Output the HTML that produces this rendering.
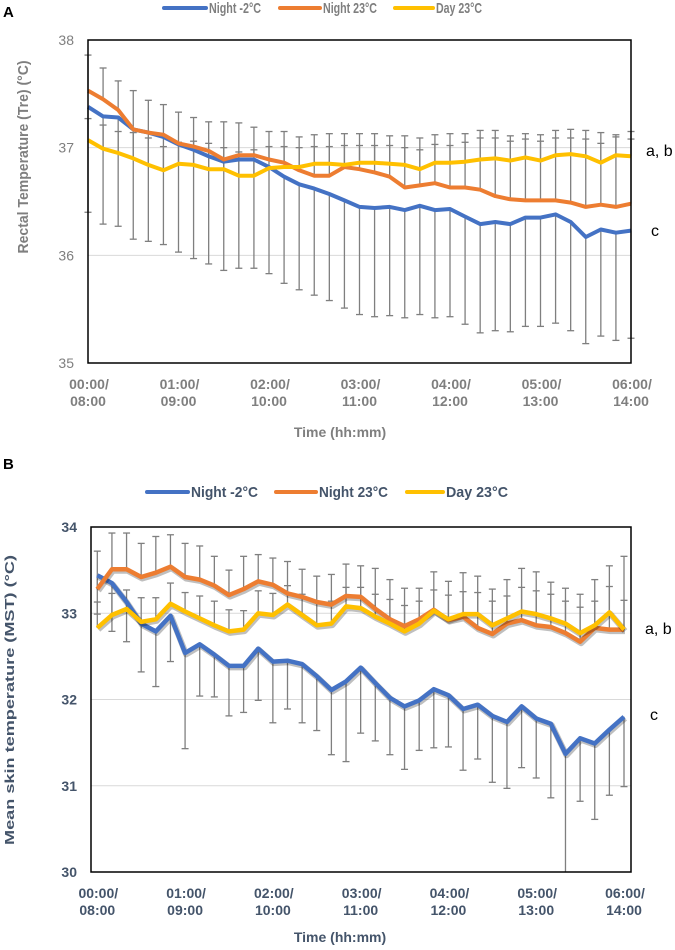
<!DOCTYPE html>
<html><head><meta charset="utf-8"><style>
html,body{margin:0;padding:0;background:#fff;}
svg{display:block;font-family:"Liberation Sans",sans-serif;}
</style></head><body>
<svg id="root" width="675" height="950" viewBox="0 0 675 950"></svg>
<script>
// ---------- DATA: Panel A (rectal temperature) ----------
const xLabelsTop = ["00:00/","01:00/","02:00/","03:00/","04:00/","05:00/","06:00/"];
const xLabelsBot = ["08:00","09:00","10:00","11:00","12:00","13:00","14:00"];
const seriesNames = ["Night -2°C","Night 23°C","Day 23°C"];
const aTicks = [35,36,37,38];
const aBlue = [37.38,37.29,37.28,37.17,37.14,37.10,37.03,36.98,36.92,36.87,36.89,36.89,36.82,36.73,36.66,36.62,36.57,36.51,36.45,36.44,36.45,36.42,36.46,36.42,36.43,36.36,36.29,36.31,36.29,36.35,36.35,36.38,36.31,36.17,36.24,36.21,36.23];
const aOrange = [37.53,37.45,37.35,37.17,37.14,37.12,37.04,37.01,36.97,36.89,36.93,36.93,36.89,36.86,36.79,36.74,36.74,36.82,36.80,36.77,36.73,36.63,36.65,36.67,36.63,36.63,36.61,36.55,36.52,36.51,36.51,36.51,36.49,36.45,36.47,36.45,36.48];
const aYellow = [37.07,36.99,36.95,36.90,36.84,36.79,36.85,36.84,36.80,36.80,36.74,36.74,36.81,36.82,36.82,36.85,36.85,36.84,36.86,36.86,36.85,36.84,36.80,36.86,36.86,36.87,36.89,36.90,36.88,36.91,36.88,36.93,36.94,36.92,36.86,36.93,36.92];
const aBlueErr = [0.98,1.00,1.01,1.02,1.01,1.00,1.00,1.01,1.00,1.01,1.01,1.01,0.99,0.99,0.98,0.99,0.99,1.00,1.00,1.01,1.01,1.00,1.01,1.00,1.00,1.00,1.01,1.01,1.00,1.01,1.01,1.01,1.01,0.99,0.99,1.00,1.00];
const aOrangeErr = [0.33,0.29,0.27,0.36,0.30,0.28,0.29,0.27,0.27,0.35,0.30,0.26,0.26,0.29,0.31,0.38,0.39,0.31,0.33,0.36,0.38,0.48,0.44,0.45,0.50,0.50,0.55,0.61,0.59,0.62,0.61,0.65,0.68,0.71,0.67,0.67,0.67];
const aYellowErr = [0.20,0.22,0.20,0.24,0.25,0.22,0.20,0.22,0.24,0.20,0.22,0.24,0.20,0.19,0.18,0.16,0.16,0.18,0.16,0.16,0.17,0.16,0.18,0.17,0.16,0.18,0.20,0.19,0.18,0.17,0.18,0.16,0.15,0.16,0.18,0.17,0.16];

// ---------- DATA: Panel B (mean skin temperature) ----------
const bTicks = [30,31,32,33,34];
const bBlue = [33.44,33.35,33.13,32.88,32.79,32.97,32.54,32.64,32.52,32.39,32.39,32.59,32.44,32.45,32.41,32.27,32.11,32.21,32.37,32.19,32.02,31.92,31.99,32.12,32.05,31.89,31.94,31.81,31.74,31.92,31.78,31.72,31.37,31.55,31.49,31.65,31.80];
const bOrange = [33.28,33.51,33.51,33.42,33.47,33.54,33.42,33.39,33.32,33.21,33.28,33.37,33.33,33.23,33.19,33.13,33.10,33.20,33.19,33.05,32.93,32.85,32.93,33.04,32.92,32.96,32.83,32.76,32.88,32.92,32.86,32.84,32.77,32.67,32.83,32.81,32.81];
const bYellow = [32.83,32.98,33.05,32.90,32.93,33.11,33.02,32.94,32.86,32.79,32.81,33.00,32.98,33.10,32.98,32.86,32.88,33.08,33.06,32.96,32.88,32.79,32.88,33.03,32.93,32.99,32.99,32.86,32.94,33.02,32.99,32.94,32.88,32.77,32.86,33.01,32.81];
const bBlueErr = [0.45,0.56,0.46,0.56,0.64,0.53,1.11,0.60,0.49,0.58,0.54,0.60,0.71,0.56,0.68,0.63,0.75,0.93,0.76,0.67,0.66,0.73,0.58,0.68,0.60,0.71,0.63,0.77,0.77,0.71,0.69,0.86,1.40,0.73,0.88,0.76,0.81];
const bOrangeErr = [0.44,0.42,0.42,0.39,0.42,0.37,0.39,0.39,0.34,0.29,0.38,0.31,0.31,0.37,0.32,0.30,0.35,0.37,0.36,0.47,0.46,0.44,0.36,0.44,0.45,0.51,0.60,0.52,0.51,0.60,0.62,0.52,0.52,0.55,0.56,0.74,0.85];
const bYellowErr = [0.30,0.25,0.22,0.28,0.25,0.24,0.22,0.26,0.28,0.25,0.22,0.26,0.25,0.22,0.24,0.28,0.26,0.22,0.24,0.26,0.28,0.30,0.26,0.24,0.28,0.26,0.25,0.28,0.26,0.28,0.27,0.28,0.26,0.30,0.28,0.30,0.34];

const COLORS = ["#4472C4","#ED7D31","#FFC000"];
const NS = "http://www.w3.org/2000/svg";
const root = document.getElementById("root");
function mk(tag, attrs, parent){
  const e = document.createElementNS(NS, tag);
  for (const k in attrs) e.setAttribute(k, attrs[k]);
  (parent||root).appendChild(e);
  return e;
}

function drawPanel(cfg){
  const g = mk("g", {});
  
  
  const y = v => cfg.top + (cfg.ymax - v) / (cfg.ymax - cfg.ymin) * (cfg.bottom - cfg.top);
  const n = cfg.series[0].length;
  const x = i => cfg.x0 + i * (cfg.x1 - cfg.x0) / (n - 1);

  const L = mk("text", {x:3, y:cfg.letterY, "font-size":15, "font-weight":"bold", fill:"#000"}, g);
  L.textContent = cfg.letter;
  
  

  cfg.legend.forEach((lg, k) => {
    const le = mk("g", {}, g);
    
    
    mk("line", {x1:lg[0], x2:lg[1], y1:cfg.legendY, y2:cfg.legendY, stroke:COLORS[k], "stroke-width":4, "stroke-linecap":"round"}, le);
    const t = mk("text", {x:lg[1]+3, y:cfg.legendY+5, "font-size":cfg.legendFs, "font-weight":"bold", fill:cfg.textColor, textLength:lg[2], lengthAdjust:"spacingAndGlyphs"}, le);
    t.textContent = seriesNames[k];
  });

  cfg.ticks.forEach(v => {
    if (v !== cfg.ymin && v !== cfg.ymax) {
      const gl = mk("line", {x1:cfg.left, x2:cfg.right, y1:y(v), y2:y(v), stroke:"#d9d9d9", "stroke-width":1}, g);
      
      
    }
    const t = mk("text", {x:cfg.left-14, y:y(v)+5, "font-size":14, "font-weight":cfg.tickWeight, fill:cfg.textColor, "text-anchor":"end"}, g);
    t.textContent = v;
    
    
  });

  const errG = mk("g", {stroke:"#7f7f7f", "stroke-width":1.3, fill:"none"}, g);
  
  
  const cap = 3.5;
  cfg.errs.forEach((es, k) => {
    const vals = cfg.series[k];
    es.arr.forEach((e, i) => {
      const xi = x(i);
      const lo = Math.max(cfg.ymin, es.minus ? vals[i]-e : vals[i]);
      const hi = Math.min(cfg.ymax, es.plus ? vals[i]+e : vals[i]);
      mk("line", {x1:xi, x2:xi, y1:y(lo), y2:y(hi)}, errG);
      if (es.plus) mk("line", {x1:xi-cap, x2:xi+cap, y1:y(hi), y2:y(hi)}, errG);
      if (es.minus && vals[i]-e > cfg.ymin) mk("line", {x1:xi-cap, x2:xi+cap, y1:y(lo), y2:y(lo)}, errG);
    });
  });

  cfg.order.forEach(k => {
    const pts = cfg.series[k].map((v,i) => x(i).toFixed(1)+","+y(v).toFixed(1)).join(" ");
    if (cfg.shadow) mk("polyline", {points:pts, fill:"none", stroke:"rgba(0,0,0,0.25)", "stroke-width":cfg.lw+1.5, "stroke-linejoin":"round", transform:"translate(1,1.5)"}, g);
    const pl = mk("polyline", {points:pts, fill:"none", stroke:COLORS[k], "stroke-width":cfg.lw, "stroke-linejoin":"round"}, g);
    
    
  });

  const fr = mk("rect", {x:cfg.left, y:cfg.top, width:cfg.right-cfg.left, height:cfg.bottom-cfg.top, fill:"none", stroke:"#000", "stroke-width":1.5}, g);
  
  

  xLabelsTop.forEach((lab, j) => {
    const xi = x(j*6);
    const t1 = mk("text", {x:xi+1, y:cfg.bottom+26, "font-size":14, "font-weight":"bold", fill:cfg.textColor, "text-anchor":"middle"}, g);
    t1.textContent = lab;
    
    
    const t2 = mk("text", {x:xi, y:cfg.bottom+43, "font-size":14, "font-weight":"bold", fill:cfg.textColor, "text-anchor":"middle"}, g);
    t2.textContent = xLabelsBot[j];
    
    
  });

  const xt = mk("text", {x:cfg.xTitleX, y:cfg.bottom+cfg.xTitleDy, "font-size":14, "font-weight":"bold", fill:cfg.textColor, "text-anchor":"middle"}, g);
  xt.textContent = "Time (hh:mm)";
  
  

  const yt = mk("text", {x:0, y:0, "font-size":cfg.yTitleFs, "font-weight":"bold", fill:cfg.textColor, "text-anchor":"middle", textLength:cfg.yTitleLen, lengthAdjust:"spacingAndGlyphs", transform:`translate(${cfg.yTitleX},${cfg.yTitleY}) rotate(-90)`}, g);
  yt.textContent = cfg.yTitle;
  
  

  const ab = mk("text", {x:cfg.abX, y:cfg.abY, "font-size":16, fill:"#000"}, g);
  ab.textContent = "a, b";
  
  
  const c = mk("text", {x:cfg.abX+5, y:cfg.cY, "font-size":16, fill:"#000"}, g);
  c.textContent = "c";
  
  
}

drawPanel({
  name:"panel-a-rectal-chart", letter:"A", letterY:17, legendY:8,
  legend:[[164,206,52],[280,320,54],[395,433,46]], legendFs:15,
  left:88, right:631, top:40, bottom:363, x0:88, x1:631,
  ymin:35, ymax:38, ticks:aTicks,
  series:[aBlue,aOrange,aYellow],
  errs:[{arr:aBlueErr, plus:false, minus:true},{arr:aOrangeErr, plus:true, minus:false},{arr:aYellowErr, plus:true, minus:false}],
  order:[0,1,2], lw:4, shadow:false,
  textColor:"#7f7f7f", tickWeight:"normal",
  xTitleX:340, xTitleDy:74,
  yTitle:"Rectal Temperature (Tre) (°C)", yTitleLen:193, yTitleFs:15, yTitleX:28, yTitleY:157,
  abX:646, abY:156, cY:236
});

drawPanel({
  name:"panel-b-skin-chart", letter:"B", letterY:469, legendY:492,
  legend:[[147,188,67],[276,316,69],[407,443,62]], legendFs:15,
  left:91, right:631, top:527, bottom:872, x0:97.3, x1:624,
  ymin:30, ymax:34, ticks:bTicks,
  series:[bBlue,bOrange,bYellow],
  errs:[{arr:bBlueErr, plus:false, minus:true},{arr:bOrangeErr, plus:true, minus:false},{arr:bYellowErr, plus:true, minus:false}],
  order:[0,1,2], lw:4.5, shadow:true,
  textColor:"#44546A", tickWeight:"bold",
  xTitleX:340, xTitleDy:70,
  yTitle:"Mean skin temperature (MST)  (°C)", yTitleLen:290, yTitleFs:13, yTitleX:14, yTitleY:700,
  abX:645, abY:634, cY:720
});
</script>
</body></html>
